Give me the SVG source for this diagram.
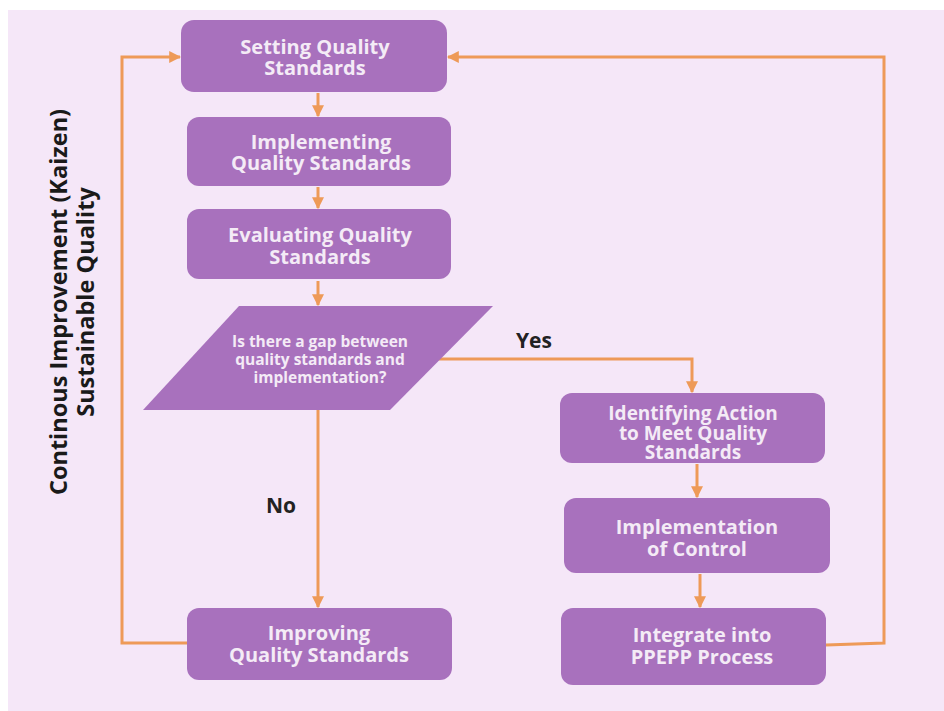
<svg xmlns="http://www.w3.org/2000/svg" width="944" height="711" viewBox="0 0 944 711">
<defs>
<marker id="ah" viewBox="0 0 10 10" refX="9" refY="5" markerWidth="4" markerHeight="4" orient="auto" markerUnits="strokeWidth">
<path d="M0,0 L10,5 L0,10 z" fill="#ee9a58"/>
</marker>
<style>
.node{fill:#a871bd;}
.t{font-family:"Open Sans","Noto Sans",sans-serif;font-weight:700;font-size:20px;fill:#f4ebf6;text-anchor:middle;}
.t2{font-family:"Open Sans","Noto Sans",sans-serif;font-weight:700;font-size:19px;fill:#f4ebf6;text-anchor:middle;}
.q{font-family:"Open Sans","Noto Sans",sans-serif;font-weight:700;font-size:15.5px;fill:#f4ebf6;text-anchor:middle;}
.lbl{font-family:"Open Sans","Noto Sans",sans-serif;font-weight:700;font-size:21px;fill:#222;}
.side{font-family:"Open Sans","Noto Sans",sans-serif;font-weight:700;font-size:23.5px;fill:#1a1a1a;text-anchor:middle;}
.c{fill:none;stroke:#ee9a58;stroke-width:3;}
</style>
</defs>
<rect width="944" height="711" fill="#ffffff"/>
<rect x="8" y="10" width="936" height="701" fill="#f5e7f8"/>
<g id="side-title">
<text class="side" transform="translate(67,302) rotate(-90)">Continous Improvement (Kaizen)</text>
<text class="side" transform="translate(94,302) rotate(-90)">Sustainable Quality</text>
</g>
<g id="connectors">
<line class="c" x1="318" y1="93" x2="318" y2="116" marker-end="url(#ah)"/>
<line class="c" x1="318" y1="187" x2="318" y2="208" marker-end="url(#ah)"/>
<line class="c" x1="318" y1="281" x2="318" y2="305" marker-end="url(#ah)"/>
<line class="c" x1="318" y1="410" x2="318" y2="607" marker-end="url(#ah)"/>
<polyline class="c" points="432,359 692,359 692,392" marker-end="url(#ah)"/>
<line class="c" x1="697" y1="464" x2="697" y2="497" marker-end="url(#ah)"/>
<line class="c" x1="700" y1="574" x2="700" y2="607" marker-end="url(#ah)"/>
<polyline class="c" points="826,645 884,643 884,57 448,57" marker-end="url(#ah)"/>
<polyline class="c" points="187,643 122,643 122,57 180,57" marker-end="url(#ah)"/>
<text class="lbl" x="516" y="348">Yes</text>
<text class="lbl" x="266" y="513">No</text>
</g>
<g id="setting">
<rect class="node" x="181" y="20" width="266" height="72" rx="13"/>
<text class="t" x="315" y="54">Setting Quality</text>
<text class="t" x="315" y="75">Standards</text>
</g>
<g id="implementing">
<rect class="node" x="187" y="117" width="264" height="69" rx="12"/>
<text class="t" x="321" y="149">Implementing</text>
<text class="t" x="321" y="170">Quality Standards</text>
</g>
<g id="evaluating">
<rect class="node" x="187" y="209" width="264" height="70" rx="12"/>
<text class="t" x="320" y="242">Evaluating Quality</text>
<text class="t" x="320" y="264">Standards</text>
</g>
<g id="decision">
<polygon class="node" points="239,306 493,306 390,410 143,410"/>
<text class="q" x="320" y="347">Is there a gap between</text>
<text class="q" x="320" y="365">quality standards and</text>
<text class="q" x="320" y="383">implementation?</text>
</g>
<g id="identifying">
<rect class="node" x="560" y="393" width="265" height="70" rx="12"/>
<text class="t2" x="693" y="420">Identifying Action</text>
<text class="t2" x="693" y="440">to Meet Quality</text>
<text class="t2" x="693" y="459">Standards</text>
</g>
<g id="control">
<rect class="node" x="564" y="498" width="266" height="75" rx="12"/>
<text class="t" x="697" y="534">Implementation</text>
<text class="t" x="697" y="556">of Control</text>
</g>
<g id="integrate">
<rect class="node" x="561" y="608" width="265" height="77" rx="12"/>
<text class="t" x="702" y="642">Integrate into</text>
<text class="t" x="702" y="664">PPEPP Process</text>
</g>
<g id="improving">
<rect class="node" x="187" y="608" width="265" height="72" rx="12"/>
<text class="t" x="319" y="640">Improving</text>
<text class="t" x="319" y="662">Quality Standards</text>
</g>
</svg>
